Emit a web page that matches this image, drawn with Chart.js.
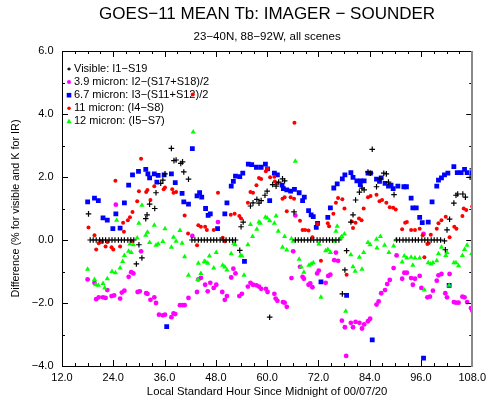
<!DOCTYPE html>
<html>
<head>
<meta charset="utf-8">
<script src="https://cdn.jsdelivr.net/npm/chart.js@4/dist/chart.umd.min.js"></script>
<style>
html,body{margin:0;padding:0;background:#fff;}
#wrap{width:491px;height:400px;}
</style>
</head>
<body>
<div id="wrap"><canvas id="c" width="491" height="400"></canvas></div>
<script>
// ---- data (hours since midnight, difference) ----
const xTickValues = [12, 24, 36, 48, 60, 72, 84, 96, 108];
const yTickValues = [-4, -2, 0, 2, 4, 6];

const visible = [
  [18.2,0.83],
  [18.6,0],[19.3,0],[20.0,0],[20.8,0],[21.5,0],[22.2,0],[23.0,0],[23.7,0],[24.4,0],[25.2,0],[25.9,0],[26.6,0],[27.4,0],[28.1,0],[28.8,0],
  [29.4,-0.76],[30.0,-0.15],[30.7,-0.57],[31.6,0.68],[31.9,0.80],[32.5,1.14],[33.7,1.00],[34.0,1.50],[35.1,1.80],[35.6,1.90],[36.1,2.10],
  [37.6,2.91],[38.2,2.52],[38.7,2.54],[39.8,2.43],[40.2,2.48],[40.5,2.16],[41.6,1.93],
  [42.4,0],[43.1,0],[43.9,0],[44.6,0],[45.3,0],[46.0,0],[46.8,0],[47.5,0],[48.2,0],[49.0,0],[49.7,0],[50.4,0],[51.2,0],[51.9,0],[52.6,0],
  [53.6,-0.33],[53.9,0.42],[54.4,0.57],[56.1,1.08],[56.7,1.18],[57.6,1.29],[58.1,1.17],[58.6,1.25],[59.5,1.42],[60.0,1.55],[60.6,-2.45],
  [61.3,1.76],[62.1,1.71],[62.7,1.84],[63.6,1.94],[64.1,1.88],[66.3,0.89],
  [66.6,0],[67.3,0],[68.0,0],[68.7,0],[69.5,0],[70.2,0],[70.9,0],[71.7,0],[72.4,0],[73.1,0],[73.9,0],[74.6,0],[75.3,0],[76.1,0],[76.8,0],
  [77.6,-1.71],[78.2,-0.95],[78.6,-0.34],[79.6,0.57],[80.1,0.80],[80.7,1.27],[81.6,1.52],[82.2,1.65],[82.7,1.59],[83.6,2.16],[84.2,2.12],
  [84.6,2.88],[85.6,1.69],[86.4,1.94],[87.3,2.12],[87.9,2.10],[88.4,1.84],[89.7,1.44],
  [90.3,0],[91.0,0],[91.8,0],[92.5,0],[93.2,0],[94.0,0],[94.7,0],[95.4,0],[96.2,0],[96.9,0],[97.6,0],[98.4,0],[99.1,0],[99.8,0],[100.6,0],
  [101.5,-0.03],[101.7,-0.31],[102.1,0.32],[102.7,0.66],[103.7,1.17],[104.2,1.42],[104.6,1.46],[105.8,1.46],[106.4,1.36],[107.5,1.99],[108.0,2.26]
];

const micron39 = [
  [18.0,-1.25],[19.6,-1.36],[20.0,-1.88],[20.6,-1.82],[21.6,-1.82],[22.2,-1.84],[22.6,-1.59],[23.6,-1.78],[24.2,-1.76],[24.6,1.12],
  [25.6,-1.86],[26.0,-1.67],[26.6,-1.61],[27.6,-1.17],[28.2,-1.02],[28.7,-1.06],[29.7,-1.65],[30.2,-1.63],[30.5,-0.36],[31.7,-1.69],
  [32.0,-1.71],[32.7,-1.90],[33.6,-1.82],[34.0,-2.00],[34.7,-2.37],[35.6,-2.39],[36.1,-2.37],[37.6,-2.45],[38.1,-2.33],[38.5,-2.35],
  [39.6,-2.07],[40.2,-2.07],[40.7,-2.07],[41.6,-1.84],[42.5,0.13],[43.6,-1.65],[43.9,-1.25],[44.5,-1.20],[45.5,-1.42],[46.1,-1.63],
  [46.7,-1.36],[47.5,-1.52],[48.1,-1.42],[48.5,0.57],[49.5,-1.65],[50.1,-1.90],[50.6,-1.78],[51.6,-1.19],[52.1,-0.91],[52.6,-1.06],
  [53.5,-1.78],[54.1,-1.71],[55.5,-1.48],[56.1,-1.36],[56.7,-1.42],[57.5,-1.44],[58.1,-1.48],[58.6,-1.55],[59.7,-1.55],[60.1,-1.65],
  [61.7,-1.71],[62.0,-1.86],[62.4,-1.93],[63.7,-1.97],[64.1,-1.99],[64.6,-2.12],[65.7,-1.21],[66.1,-0.36],[66.6,0.78],[67.7,-0.85],
  [68.3,-1.17],[68.6,-1.23],[69.7,-1.42],[70.1,-1.38],[70.6,-1.50],[71.7,-1.06],[72.1,-0.97],[73.7,-1.36],[74.3,-1.14],[74.8,-1.10],
  [75.7,-0.64],[76.1,-0.40],[76.6,-0.66],[77.5,-2.56],[78.2,-2.77],[78.5,-3.68],[79.6,-2.63],[80.1,-2.77],[80.7,-2.60],[81.6,-2.63],
  [82.2,-2.81],[82.7,-2.68],[83.6,-2.58],[84.1,-2.50],[85.6,-2.05],[86.1,-1.95],[86.7,-1.69],[87.6,-1.59],[88.1,-1.40],[88.7,-1.27],
  [89.6,-0.89],[90.3,-0.49],[91.6,-1.23],[92.1,-1.04],[92.7,-1.04],[93.7,-1.21],[94.1,-1.42],[94.6,-1.23],[95.7,-1.14],[96.1,-1.52],
  [96.6,0.19],[97.5,-1.82],[98.1,-1.80],[98.8,-1.61],[99.7,-1.29],[100.1,-1.12],[100.8,-1.08],[101.7,-1.69],[102.1,-1.82],[102.7,-1.08],
  [103.7,-1.97],[104.2,-1.99],[104.8,-1.99],[105.7,-1.80],[106.2,-1.82],[106.8,-1.97],[107.7,-2.16],[108.0,-2.24]
];

const micron67 = [
  [18.0,1.21],[19.6,1.33],[20.5,1.25],[21.6,0.70],[22.6,0.63],[23.9,0.36],[24.6,0.83],[25.6,0.38],[26.6,1.18],[27.6,1.74],
  [28.5,2.07],[29.9,2.18],[31.6,2.24],[32.1,2.10],[32.5,1.97],[33.6,2.10],[34.2,1.84],[34.5,2.05],[35.9,2.07],[36.5,-2.75],
  [37.6,2.10],[38.5,1.82],[40.1,1.48],[40.5,1.21],[41.6,1.14],[42.5,2.90],[43.6,1.40],[44.2,1.50],[44.7,1.36],[45.6,1.00],
  [46.2,0.78],[46.7,0.83],[48.4,0.36],[50.1,0.83],[50.6,1.18],[51.6,1.71],[52.1,1.86],[52.6,2.03],[53.6,2.01],[54.3,2.12],
  [54.7,-0.68],[55.6,2.41],[56.4,2.39],[57.5,2.31],[58.6,2.31],[59.6,2.41],[60.1,2.26],[60.6,1.25],[61.7,2.12],[62.4,2.07],
  [63.5,1.74],[63.8,1.63],[64.6,1.59],[65.5,1.55],[66.4,1.61],[67.5,1.50],[68.3,1.25],[68.7,1.36],[69.7,0.93],[70.3,0.80],
  [70.8,0.74],[71.5,0.40],[71.8,0.53],[72.6,-1.33],[74.2,0.72],[74.8,1.02],[75.6,1.65],[76.4,1.78],[77.6,1.94],[78.2,2.07],
  [78.6,-1.76],[79.6,2.14],[80.1,1.99],[81.0,1.88],[81.8,1.76],[81.9,1.88],[82.7,1.88],[83.6,2.12],[84.2,2.12],[84.6,-3.17],
  [85.6,1.93],[86.3,1.86],[86.7,1.97],[87.6,1.80],[88.4,1.71],[89.0,1.74],[89.5,1.63],[90.6,1.71],[92.0,1.69],[92.6,1.69],
  [93.7,1.33],[94.1,1.02],[94.9,1.02],[95.7,0.72],[96.3,0.55],[96.6,-3.75],[97.7,0.57],[98.6,1.21],[99.7,1.71],[100.1,1.90],
  [100.8,1.97],[101.5,2.07],[102.3,2.12],[102.6,-1.44],[103.7,2.33],[104.5,2.14],[105.4,2.14],[106.2,2.24],[106.8,2.14],[108.0,2.14]
];

const micron11 = [
  [18.2,0.40],[19.6,0.15],[20.0,-0.30],[20.6,-0.10],[21.0,-0.05],[21.4,-0.06],[22.2,-0.21],[22.6,-0.06],[23.6,-0.23],[24.0,-0.30],
  [24.5,1.88],[25.6,-0.21],[26.3,0.55],[26.5,0.26],[27.4,0.63],[27.9,0.72],[28.3,-0.04],[28.5,0.89],[29.6,1.23],[30.0,1.55],
  [30.5,2.58],[31.7,1.52],[32.0,1.59],[32.7,1.27],[33.6,1.71],[35.8,1.61],[36.1,1.67],[37.8,1.61],[38.1,1.50],[38.7,1.52],
  [40.7,0.78],[41.5,0.21],[42.6,4.62],[43.6,-0.17],[43.9,0.47],[44.5,0.42],[45.5,0.42],[45.9,0.32],[47.5,0.32],[48.5,1.50],
  [49.6,0.07],[50.1,-0.04],[51.5,0.80],[52.4,0.83],[53.5,0.76],[53.9,0.68],[55.5,1.18],[56.1,1.52],[56.7,1.50],[57.5,1.74],
  [58.1,1.97],[58.6,1.94],[59.7,2.18],[60.1,2.26],[60.7,1.99],[61.7,2.01],[61.8,1.86],[62.3,1.80],[63.6,1.31],[64.1,1.36],
  [64.6,0.91],[65.5,1.36],[66.3,1.31],[66.4,3.72],[67.7,0.61],[68.3,0.32],[68.9,0.32],[69.7,0.30],[70.6,0.09],[71.8,0.51],
  [72.6,-0.66],[74.2,0.53],[74.5,0.44],[75.5,0.83],[76.1,1.18],[76.6,1.33],[77.6,1.29],[78.1,1.00],[78.6,-1.10],[79.8,0.59],
  [80.1,0.38],[80.7,0.55],[81.5,0.68],[82.1,0.63],[82.6,1.00],[83.6,1.36],[84.2,1.40],[85.6,1.44],[86.3,1.23],[86.9,1.27],
  [87.9,1.18],[88.7,1.04],[89.5,1.02],[90.1,0.97],[91.6,0.34],[92.3,0.55],[92.7,0.57],[93.7,0.32],[94.6,0.32],[95.7,0.36],
  [96.4,0.15],[96.8,-0.55],[97.5,-0.13],[97.8,-0.10],[98.3,0.17],[99.7,0.36],[100.1,0.53],[100.8,0.63],[101.8,0.74],[102.7,0.09],
  [103.8,0.42],[104.3,0.36],[105.7,0.76],[106.0,1.00],[106.6,0.95],[108.0,1.06],[108.2,0.89]
];

const micron12 = [
  [18.0,-0.93],[19.6,-1.25],[19.9,-1.42],[20.5,-1.44],[21.6,-1.38],[22.0,-1.52],[22.6,-1.23],[23.7,-1.00],[24.5,-1.04],[24.8,0.63],
  [25.6,-0.89],[26.2,-0.68],[26.6,-0.49],[27.6,-0.36],[27.9,-0.13],[28.2,-0.40],[28.7,-0.15],[29.6,0.06],[30.0,0.53],[30.7,1.10],
  [31.6,0.15],[32.0,0.25],[32.5,-0.08],[33.6,0.47],[34.0,-0.17],[34.5,-0.13],[35.6,-0.05],[36.1,0.36],[37.6,-0.23],[38.1,0.09],
  [38.7,-0.04],[39.6,0.30],[40.1,-0.10],[40.7,-0.53],[41.6,-1.12],[42.7,3.43],[43.8,-1.25],[43.9,-0.74],[44.5,-1.06],[45.3,-0.68],
  [45.6,-0.70],[46.1,-0.74],[46.5,-0.51],[47.5,-0.89],[48.1,-0.40],[49.6,-0.80],[50.1,-0.86],[50.6,-0.95],[51.6,-0.44],[52.2,-0.10],
  [52.5,-0.15],[53.8,-0.49],[54.1,-0.51],[54.6,-1.12],[55.5,-0.15],[56.1,0.49],[56.6,0.11],[57.6,0.34],[58.1,0.57],[58.4,0.53],
  [59.6,0.72],[60.0,0.70],[60.6,0.61],[61.7,0.53],[62.1,0.76],[62.6,0.28],[63.6,-0.23],[64.1,0.11],[64.6,-0.32],[65.7,0.04],
  [66.1,-0.04],[66.6,2.50],[67.5,-0.61],[68.0,-0.86],[68.6,-1.02],[69.8,-0.80],[70.3,-0.76],[70.8,-0.72],[72.1,-0.13],[72.6,-1.82],
  [73.7,-0.34],[74.2,-0.30],[74.8,-0.40],[75.7,-0.04],[76.1,0.28],[76.4,0.44],[77.2,0.06],[77.5,0.11],[78.1,0.19],[78.4,-2.26],
  [79.6,-0.47],[80.1,-0.85],[80.6,-0.99],[81.6,-0.55],[82.2,-0.93],[82.6,-0.40],[83.6,-0.08],[84.1,-0.15],[85.6,0.02],[85.7,-0.25],
  [86.5,0.11],[87.5,-0.17],[88.5,-0.40],[89.6,-0.19],[90.1,0.00],[91.6,-0.70],[92.1,-0.51],[92.7,-0.57],[93.7,-0.55],[94.1,-0.80],
  [94.6,-0.57],[95.7,-0.57],[96.8,-1.59],[97.7,-0.72],[98.3,-0.76],[98.8,-0.72],[99.7,-0.66],[100.1,-0.44],[100.8,-0.23],[101.8,-0.49],
  [102.1,-0.40],[102.6,-1.44],[103.7,-0.72],[104.2,-0.72],[104.8,-0.82],[105.7,-0.49],[106.2,-0.30],[106.8,-0.17],[107.9,-0.43]
];

const seriesLabels = [
  'Visible: I1\u2212S19',
  '3.9 micron: I2\u2212(S17+S18)/2',
  '6.7 micron: I3\u2212(S11+S12)/2',
  '11 micron: (I4\u2212S8)',
  '12 micron: (I5\u2212S7)'
];

// ---- chart ----
const FONT = '"Liberation Sans", Arial, Helvetica, sans-serif';
const toPts = arr => arr.map(p => ({x: p[0], y: p[1]}));
const fmt = v => (v < 0 ? '\u2212' : '') + Math.abs(v).toFixed(1);

function drawMarker(ctx, style, x, y, r, color) {
  ctx.save();
  ctx.fillStyle = color; ctx.strokeStyle = color;
  ctx.beginPath();
  if (style === 'cross') {
    ctx.lineWidth = 1.3;
    ctx.moveTo(x - r, y); ctx.lineTo(x + r, y);
    ctx.moveTo(x, y - r); ctx.lineTo(x, y + r);
    ctx.stroke();
  } else if (style === 'rect') {
    ctx.fillRect(x - r, y - r, 2 * r, 2 * r);
  } else if (style === 'triangle') {
    ctx.moveTo(x, y - r * 1.1);
    ctx.lineTo(x + r, y + r * 0.7);
    ctx.lineTo(x - r, y + r * 0.7);
    ctx.closePath(); ctx.fill();
  } else {
    ctx.arc(x, y, r, 0, Math.PI * 2); ctx.fill();
  }
  ctx.restore();
}

const legendPlugin = {
  id: 'innerLegend',
  beforeDatasetsDraw(chart) {
    const {ctx, chartArea: a} = chart;
    const legendMarks = [
      ['cross', 1.6, '#000000'],
      ['circle', 2.0, '#ff00ff'],
      ['rect', 2.3, '#0000ff'],
      ['circle', 1.8, '#ff0000'],
      ['triangle', 2.6, '#00ff00']
    ];
    ctx.save();
    ctx.font = '11px ' + FONT;
    ctx.fillStyle = '#000';
    ctx.textBaseline = 'middle';
    ctx.textAlign = 'left';
    chart.data.datasets.forEach((ds, i) => {
      const yy = a.top + 18 + i * 13.1;
      const m = legendMarks[i];
      drawMarker(ctx, m[0], a.left + 7, yy, m[1], m[2]);
      ctx.fillStyle = '#000';
      ctx.fillText(ds.label, a.left + 12, yy);
    });
    ctx.restore();
  }
};

const framePlugin = {
  id: 'frameTicks',
  afterDatasetsDraw(chart) {
    const {ctx, chartArea: a, scales} = chart;
    const xs = scales.x, ys = scales.y;
    ctx.save();
    ctx.strokeStyle = '#000';
    ctx.lineWidth = 1;
    ctx.beginPath();
    for (let v = xs.min; v <= xs.max + 1e-6; v += 3) {
      const px = Math.round(xs.getPixelForValue(v)) + 0.5;
      const len = xTickValues.includes(v) ? 6 : 3;
      ctx.moveTo(px, a.bottom); ctx.lineTo(px, a.bottom - len);
      ctx.moveTo(px, a.top); ctx.lineTo(px, a.top + len);
    }
    for (let v = ys.min; v <= ys.max + 1e-6; v += 1) {
      const py = Math.round(ys.getPixelForValue(v)) + 0.5;
      const len = yTickValues.includes(v) ? 6 : 3;
      ctx.moveTo(a.left, py); ctx.lineTo(a.left + len, py);
      ctx.moveTo(a.right, py); ctx.lineTo(a.right - len, py);
    }
    ctx.stroke();
    // frame
    ctx.beginPath();
    const L = Math.round(a.left) + 0.5, T = Math.round(a.top) + 0.5,
          B = Math.round(a.bottom) + 0.5, R = Math.round(a.right);
    ctx.moveTo(R, T); ctx.lineTo(L, T); ctx.lineTo(L, B); ctx.lineTo(R, B);
    ctx.stroke();
    ctx.strokeStyle = '#8a8a8a';
    ctx.lineWidth = 2;
    ctx.beginPath();
    ctx.moveTo(R, a.top); ctx.lineTo(R, a.bottom + 1);
    ctx.stroke();
    ctx.restore();
  }
};

const chart = new Chart(document.getElementById('c'), {
  type: 'scatter',
  data: {
    datasets: [
      {label: seriesLabels[0], data: toPts(visible), pointStyle: 'cross', pointRadius: 2.8,
       borderColor: '#000000', backgroundColor: '#000000', borderWidth: 1.2, order: 0},
      {label: seriesLabels[1], data: toPts(micron39), pointStyle: 'circle', pointRadius: 2.4,
       borderColor: '#ff00ff', backgroundColor: '#ff00ff', borderWidth: 0, order: 4},
      {label: seriesLabels[2], data: toPts(micron67), pointStyle: 'rect', pointRadius: 3.4,
       borderColor: '#0000ff', backgroundColor: '#0000ff', borderWidth: 0, order: 3},
      {label: seriesLabels[3], data: toPts(micron11), pointStyle: 'circle', pointRadius: 2.0,
       borderColor: '#ff0000', backgroundColor: '#ff0000', borderWidth: 0, order: 2},
      {label: seriesLabels[4], data: toPts(micron12), pointStyle: 'triangle', pointRadius: 3.0,
       borderColor: '#00ee00', backgroundColor: '#00ff00', borderWidth: 0, order: 1}
    ]
  },
  options: {
    responsive: false,
    animation: false,
    devicePixelRatio: 1,
    layout: {autoPadding: false, padding: {left: 0, right: 13, top: 0, bottom: 0}},
    plugins: {
      legend: {display: false},
      tooltip: {enabled: false},
      title: {
        display: true,
        fullSize: false,
        text: 'GOES\u221211 MEAN Tb: IMAGER \u2212 SOUNDER',
        color: '#000',
        font: {family: FONT, size: 17, weight: 'normal', lineHeight: 1.2},
        padding: {top: 4.3, bottom: 5.2}
      },
      subtitle: {
        display: true,
        fullSize: false,
        text: '23\u221240N, 88\u221292W, all scenes',
        color: '#000',
        font: {family: FONT, size: 11.5, weight: 'normal', lineHeight: 1.2},
        padding: {top: 0, bottom: 7.3}
      }
    },
    scales: {
      x: {
        type: 'linear',
        min: 12, max: 108,
        afterBuildTicks: s => { s.ticks = xTickValues.map(v => ({value: v})); },
        afterFit: s => { s.height = 34; },
        grid: {display: false, drawTicks: false},
        border: {display: false},
        ticks: {color: '#000', font: {family: FONT, size: 11}, padding: 5,
                maxRotation: 0, autoSkip: false, callback: v => fmt(v)},
        title: {display: true, text: 'Local Standard Hour Since Midnight of 00/07/20',
                color: '#000', font: {family: FONT, size: 11.3}, padding: {top: 1.5, bottom: 1.5}}
      },
      y: {
        type: 'linear',
        min: -4, max: 6,
        afterBuildTicks: s => { s.ticks = yTickValues.map(v => ({value: v})); },
        afterFit: s => { s.width = 62; },
        grid: {display: false, drawTicks: false},
        border: {display: false},
        ticks: {color: '#000', font: {family: FONT, size: 11}, padding: 8.5,
                autoSkip: false, callback: v => fmt(v)},
        title: {display: true, text: 'Difference (% for visible and K for IR)',
                color: '#000', font: {family: FONT, size: 10.8}, padding: {top: 9.5, bottom: 9.5}}
      }
    }
  },
  plugins: [legendPlugin, framePlugin]
});
</script>
</body>
</html>
